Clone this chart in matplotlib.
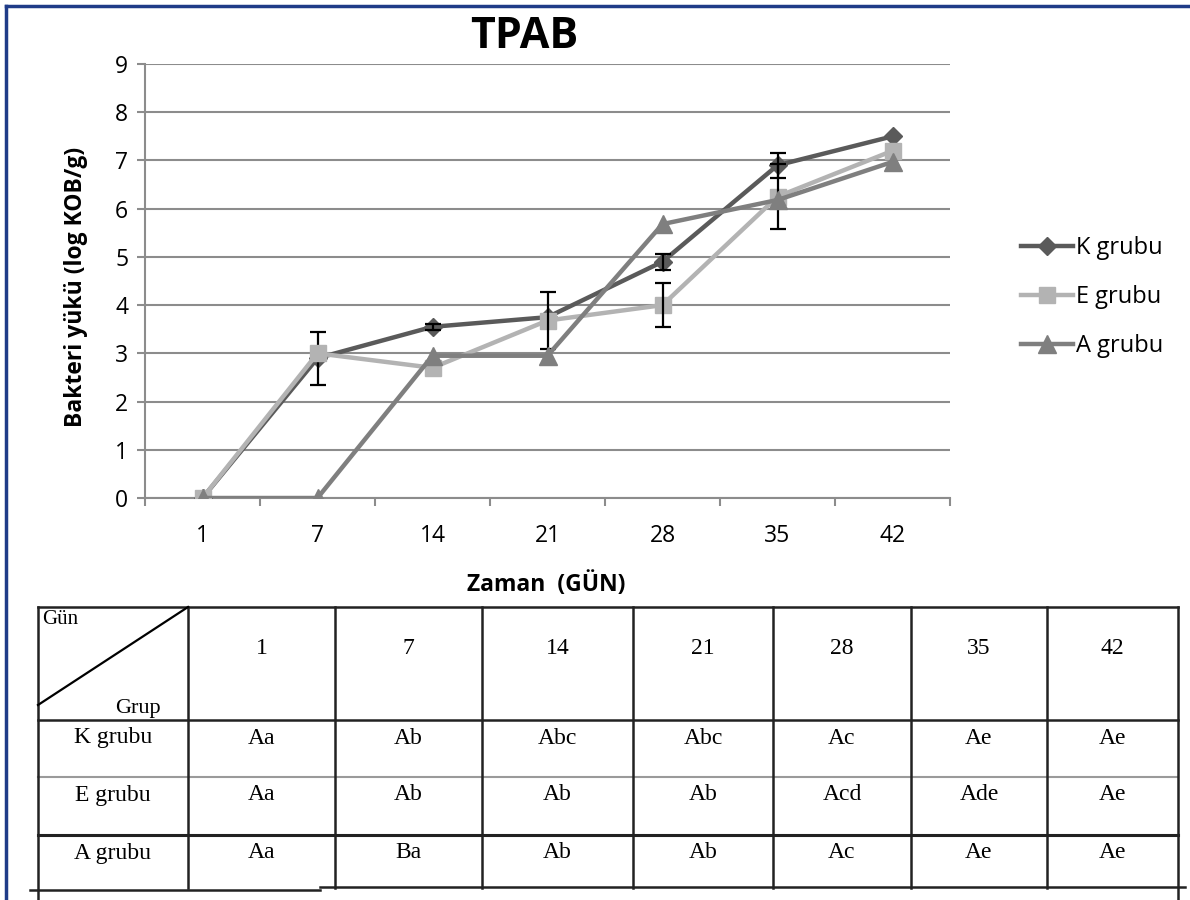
import matplotlib
matplotlib.use("Agg")
import matplotlib.pyplot as plt
import numpy as np

# --- data -------------------------------------------------------------
days = ['1', '7', '14', '21', '28', '35', '42']
k_grubu = [0, 2.9, 3.55, 3.75, 4.9, 6.9, 7.5]
e_grubu = [0, 3.0, 2.7, 3.68, 4.0, 6.25, 7.2]
a_grubu = [0, 0, 2.95, 2.95, 5.68, 6.18, 6.97]
k_err = [0, 0.55, 0.06, 0, 0.17, 0.26, 0]
e_err = [0, 0, 0, 0.6, 0.45, 0.68, 0]
a_err = [0, 0, 0, 0, 0, 0, 0]
series_names = ['K grubu', 'E grubu', 'A grubu']

row_labels = ['K grubu', 'E grubu', 'A grubu']
letters = [
    ['Aa', 'Ab', 'Abc', 'Abc', 'Ac', 'Ae', 'Ae'],
    ['Aa', 'Ab', 'Ab', 'Ab', 'Acd', 'Ade', 'Ae'],
    ['Aa', 'Ba', 'Ab', 'Ab', 'Ac', 'Ae', 'Ae'],
]

W, H = 1190, 900
fig = plt.figure(figsize=(W / 100, H / 100), dpi=100)

# overlay in pixel coordinates (border + table)
ov = fig.add_axes([0, 0, 1, 1])
ov.set_xlim(0, W)
ov.set_ylim(H, 0)
ov.axis('off')

# chart axes
ax = fig.add_axes([145 / W, (H - 498) / H, 805 / W, 434 / H])
grid_c = '#8c8c8c'
x = np.arange(len(days))

styles = [
    dict(color='#5a5a5a', marker='D', ms=9, zorder=3),
    dict(color='#b3b3b3', marker='s', ms=12, zorder=4),
    dict(color='#7f7f7f', marker='^', ms=13, zorder=5),
]
for vals, err, name, st in zip([k_grubu, e_grubu, a_grubu],
                               [k_err, e_err, a_err], series_names, styles):
    ax.plot(x, vals, lw=3.2, label=name, **st)
    idx = [i for i, v in enumerate(err) if v > 0]
    if idx:
        ax.errorbar(x[idx], [vals[i] for i in idx], yerr=[err[i] for i in idx],
                    fmt='none', ecolor='black', elinewidth=1.6, capsize=6,
                    capthick=1.6, zorder=st['zorder'] + 0.5)

ax.set_xlim(-0.5, 6.5)
ax.set_ylim(0, 9)
ax.set_yticks(range(10))
ax.set_xticks(x)
ax.set_xticklabels(days)
ax.set_xticks(np.arange(-0.5, 7, 1), minor=True)
ax.yaxis.grid(True, color=grid_c, lw=1.5)
ax.set_axisbelow(True)
for s in ['top', 'right']:
    ax.spines[s].set_visible(False)
for s in ['left', 'bottom']:
    ax.spines[s].set_color(grid_c)
    ax.spines[s].set_linewidth(1.5)
ax.tick_params(axis='y', length=6, width=1.5, color=grid_c, labelsize=16.5, pad=6)
ax.tick_params(axis='x', which='major', length=0, labelsize=16.5, pad=19)
ax.tick_params(axis='x', which='minor', length=6, width=1.5, color=grid_c)
for lab in ax.get_xticklabels() + ax.get_yticklabels():
    lab.set_fontfamily('Open Sans')

leg = ax.legend(loc='center left', bbox_to_anchor=(1000 / W, 1 - 297 / H),
                bbox_transform=fig.transFigure, frameon=False,
                prop={'family': 'Open Sans', 'size': 17},
                handlelength=2.2, handletextpad=0.1, labelspacing=1.05)

fig.text(524 / W, 1 - 36 / H, 'TPAB', ha='center', va='center',
         fontsize=31, fontweight='bold', family='Open Sans')
fig.text(546 / W, 1 - 585 / H, 'Zaman  (GÜN)', ha='center', va='center',
         fontsize=16.5, fontweight='bold', family='Open Sans')
fig.text(76 / W, 1 - 287 / H, 'Bakteri yükü (log KOB/g)', ha='center',
         va='center', rotation=90, fontsize=16.5, fontweight='bold',
         family='Open Sans')

# border
bc = '#1f3c88'
ov.plot([6, 6], [6, H], color=bc, lw=2.5)
ov.plot([6, W], [6, 6], color=bc, lw=2.5)

# table
cols = [38, 188, 335, 482, 633, 773, 911, 1047, 1178]
rows = [607, 720, 777, 835, 888]
tc = '#222222'
ov.plot([cols[0], cols[-1]], [rows[0], rows[0]], color=tc, lw=1.8)
ov.plot([cols[0], cols[-1]], [rows[1], rows[1]], color=tc, lw=1.8)
ov.plot([cols[0], cols[-1]], [rows[2], rows[2]], color='#9a9a9a', lw=1.5)
ov.plot([cols[0], cols[-1]], [rows[3], rows[3]], color=tc, lw=2.2)
ov.plot([30, 320], [rows[4] + 2, rows[4] + 2], color=tc, lw=1.8)
ov.plot([320, 1185], [rows[4] - 1, rows[4] - 1], color=tc, lw=1.8)
for i, cx in enumerate(cols):
    y1 = 900 if i in (0, len(cols) - 1) else rows[4]
    ov.plot([cx, cx], [rows[0], y1], color=tc, lw=1.8)
ov.plot([cols[0], cols[1]], [705, rows[0]], color='black', lw=1.6)

serif = 'Liberation Serif'
ov.text(42, 620, 'Gün', ha='left', va='center', fontsize=15, family=serif)
ov.text(138, 708, 'Grup', ha='center', va='center', fontsize=16, family=serif)
for j, d in enumerate(days):
    cx = (cols[j + 1] + cols[j + 2]) / 2
    ov.text(cx, 648, d, ha='center', va='center', fontsize=17, family=serif)
for r, lab in enumerate(row_labels):
    ty = rows[r + 1] + 18
    ov.text((cols[0] + cols[1]) / 2, ty, lab, ha='center', va='center',
            fontsize=17, family=serif)
    for j, v in enumerate(letters[r]):
        cx = (cols[j + 1] + cols[j + 2]) / 2
        ov.text(cx, ty, v, ha='center', va='center', fontsize=17, family=serif)

fig.savefig('out.png', dpi=100)
